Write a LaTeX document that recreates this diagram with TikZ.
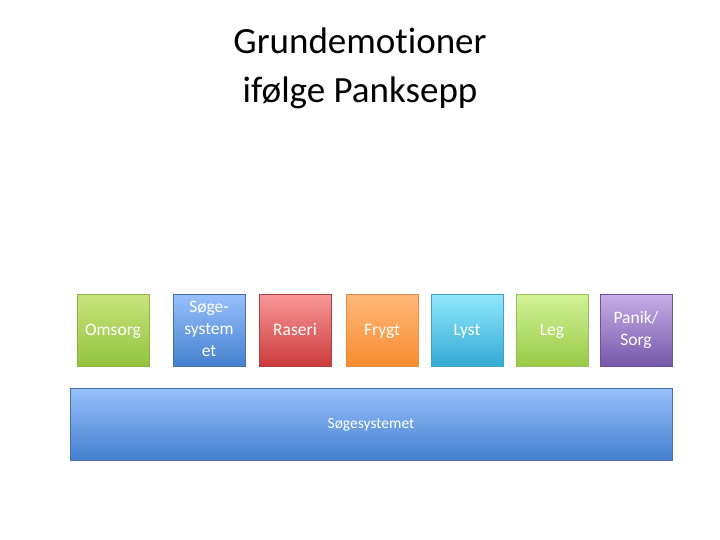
\documentclass[tikz,border=0pt]{standalone}
\usepackage{fontspec}
\setmainfont[Ligatures=NoCommon]{Carlito}
\definecolor{grnTop}{RGB}{200,228,125}
\definecolor{grnBot}{RGB}{146,196,62}
\definecolor{grnLine}{RGB}{138,178,72}
\definecolor{bluTop}{RGB}{152,192,252}
\definecolor{bluBot}{RGB}{68,128,206}
\definecolor{bluLine}{RGB}{72,112,176}
\definecolor{redTop}{RGB}{248,152,152}
\definecolor{redBot}{RGB}{204,58,60}
\definecolor{redLine}{RGB}{176,64,64}
\definecolor{orgTop}{RGB}{255,184,122}
\definecolor{orgBot}{RGB}{248,140,48}
\definecolor{orgLine}{RGB}{228,140,70}
\definecolor{cyaTop}{RGB}{146,232,252}
\definecolor{cyaBot}{RGB}{52,170,212}
\definecolor{cyaLine}{RGB}{68,160,196}
\definecolor{legTop}{RGB}{210,242,152}
\definecolor{legBot}{RGB}{152,202,70}
\definecolor{legLine}{RGB}{150,190,90}
\definecolor{vioTop}{RGB}{198,174,232}
\definecolor{vioBot}{RGB}{118,88,170}
\definecolor{vioLine}{RGB}{110,84,150}
\newcommand{\stacked}[1]{\raisebox{-3pt}{\begin{tabular}{@{}c@{}}#1\end{tabular}}}
\begin{document}
\begin{tikzpicture}[x=1pt,y=-1pt,
  emobox/.style={draw=#1Line,line width=0.6pt,top color=#1Top,bottom color=#1Bot,
    minimum width=72pt,minimum height=72pt,inner sep=1pt,
    text=white,font=\fontsize{17.5}{22}\selectfont},
  oneline/.style={text height=14pt,text depth=3pt},
  basebox/.style={draw=bluLine,line width=0.6pt,top color=bluTop,bottom color=bluBot,
    minimum width=602pt,minimum height=72pt,text=white,font=\fontsize{15.5}{20}\selectfont,
    text height=12pt,text depth=3pt},
  titletext/.style={align=center,font=\fontsize{37}{49}\selectfont}]
  \useasboundingbox (0,0) rectangle (720,540);
  % title
  \node[titletext] (title) at (360,68) {Grundemotioner\\ifølge Panksepp};
  % emotion boxes
  \node[emobox=grn,oneline] (omsorg) at (113,330) {Omsorg};
  \node[emobox=blu] (soege) at (209,330) {\stacked{Søge-\\system\\et}};
  \node[emobox=red,oneline] (raseri) at (295,330) {Raseri};
  \node[emobox=org,oneline] (frygt) at (382,330) {Frygt};
  \node[emobox=cya,oneline] (lyst) at (467,330) {Lyst};
  \node[emobox=leg,oneline] (leg) at (552,330) {Leg};
  \node[emobox=vio] (panik) at (636,330) {\stacked{Panik/\\Sorg}};
  % base bar
  \node[basebox] (system) at (371,424) {Søgesystemet};
\end{tikzpicture}
\end{document}
